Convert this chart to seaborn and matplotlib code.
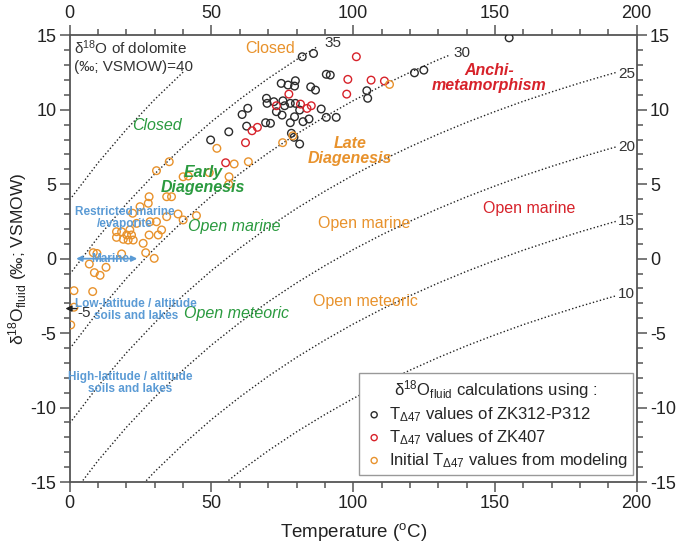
import matplotlib
matplotlib.use("Agg")
import matplotlib.pyplot as plt
from matplotlib.ticker import MultipleLocator
import seaborn as sns
import pandas as pd

# Isolines of dolomite d18O (VSMOW)
iso_40_T = [0, 10, 20, 30, 40]
iso_40_y = [3.95, 6.44, 8.68, 10.70, 12.53]
iso_35_T = [0, 10, 20, 30, 40, 50, 60, 70, 80, 87]
iso_35_y = [-1.05, 1.44, 3.68, 5.70, 7.53, 9.20, 10.71, 12.10, 13.37, 14.20]
iso_30_T = [0, 10, 20, 30, 40, 50, 60, 70, 80, 90, 100, 110, 120, 130, 134]
iso_30_y = [-6.05, -3.56, -1.32, 0.70, 2.53, 4.20, 5.71, 7.10, 8.37, 9.53, 10.61, 11.60, 12.51, 13.36, 13.67]
full_T = [0, 10, 20, 30, 40, 50, 60, 70, 80, 90, 100, 110, 120, 130, 140, 150, 160, 170, 180, 190, 193]
iso_25_y = [-11.05, -8.56, -6.32, -4.30, -2.47, -0.80, 0.71, 2.10, 3.37, 4.53, 5.61, 6.60, 7.51, 8.36,
            9.15, 9.88, 10.57, 11.20, 11.80, 12.36, 12.52]
iso_20_y = [-16.05, -13.56, -11.32, -9.30, -7.47, -5.80, -4.29, -2.90, -1.63, -0.47, 0.61, 1.60, 2.51, 3.36,
            4.15, 4.88, 5.57, 6.20, 6.80, 7.36, 7.52]
iso_15_T = full_T[2:]
iso_15_y = [-16.32, -14.30, -12.47, -10.80, -9.29, -7.90, -6.63, -5.47, -4.39, -3.40, -2.49, -1.64,
            -0.85, -0.12, 0.57, 1.20, 1.80, 2.36, 2.52]
iso_10_T = full_T[5:]
iso_10_y = [-15.80, -14.29, -12.90, -11.63, -10.47, -9.39, -8.40, -7.49, -6.64, -5.85, -5.12, -4.43,
            -3.80, -3.20, -2.64, -2.48]

# samples: T (C) and d18O fluid
zk312_T = [49.7, 56.1, 60.8, 62.8, 62.4, 69.4, 69.6, 72.0, 75.2, 75.8, 77.8, 79.6, 81.1, 88.7, 72.9,
           74.9, 79.3, 84.4, 82.3, 90.5, 94.0, 77.8, 69.1, 70.8, 78.2, 79.1, 81.1, 74.6, 77.0, 79.6,
           79.3, 85.0, 86.7, 82.0, 86.0, 90.5, 91.9, 104.8, 105.1, 121.6, 124.9, 155.0]
zk312_d = [7.97, 8.52, 9.68, 10.1, 8.9, 10.77, 10.43, 10.54, 10.6, 10.27, 10.43, 10.43, 9.98, 10.05, 9.87,
           9.64, 9.53, 9.38, 9.2, 9.49, 9.49, 9.13, 9.13, 9.09, 8.42, 8.15, 7.70, 11.77, 11.66, 11.95,
           11.59, 11.54, 11.32, 13.56, 13.78, 12.38, 12.33, 11.28, 10.77, 12.48, 12.66, 14.83]
zk407_T = [55.0, 62.0, 64.3, 66.2, 72.9, 77.3, 81.4, 83.7, 85.2, 97.7, 98.1, 101.1, 106.3, 111.0]
zk407_d = [6.44, 7.79, 8.59, 8.82, 10.27, 11.05, 10.38, 10.09, 10.27, 11.05, 12.04, 13.56, 11.99, 11.93]
model_T = [0.35, 1.5, 1.5, 8.1, 8.7, 10.7, 6.9, 12.8, 8.3, 9.6, 18.3, 26.8, 29.8, 25.9, 16.5, 18.3, 16.5,
           18.9, 20.1, 21.8, 20.6, 22.4, 21.2, 23.6, 22.2, 24.8, 27.7, 28.0, 28.3, 30.6, 28.0, 31.2, 32.4,
           34.2, 38.2, 40.0, 44.7, 34.2, 35.9, 30.6, 35.1, 40.0, 41.8, 49.2, 51.9, 56.2, 56.1, 58.0, 63.0,
           75.1, 78.7, 112.8]
model_d = [-4.45, -3.26, -2.15, -2.21, -0.94, -1.12, -0.36, -0.58, 0.40, 0.35, 0.32, 0.40, 0.02, 1.03, 1.81,
           1.81, 1.43, 1.30, 1.59, 1.59, 1.25, 1.25, 1.93, 2.37, 3.05, 3.49, 3.72, 4.16, 2.48, 2.48, 1.59,
           1.59, 1.93, 2.82, 3.0, 2.6, 2.89, 4.16, 4.16, 5.91, 6.51, 5.50, 5.55, 5.78, 7.41, 5.5, 5.0, 6.36,
           6.51, 7.79, 8.25, 11.7]

black = '#2b2b2b'
red = '#d7222a'
orange = '#e8922c'
green = '#2a9a3f'
blue = '#5b9bd5'
grey = '#555555'

sns.set_style('ticks')
plt.rcParams['font.family'] = ['Liberation Sans', 'DejaVu Sans']
plt.rcParams['mathtext.fontset'] = 'custom'
plt.rcParams['mathtext.rm'] = 'Liberation Sans'
plt.rcParams['mathtext.it'] = 'Liberation Sans:italic'
plt.rcParams['axes.unicode_minus'] = False

fig = plt.figure(figsize=(6.77, 5.49), dpi=100)
ax = fig.add_axes([0.103, 0.122, 0.8375, 0.8137])

dots = dict(color='#222222', lw=1.0, linestyle=(0, (1, 1.6)), estimator=None, sort=False, legend=False)
for T, y in [(iso_40_T, iso_40_y), (iso_35_T, iso_35_y), (iso_30_T, iso_30_y), (full_T, iso_25_y),
             (full_T, iso_20_y), (iso_15_T, iso_15_y), (iso_10_T, iso_10_y)]:
    sns.lineplot(x=T, y=y, ax=ax, **dots)

groups = [('T$_{\\Delta47}$ values of ZK312-P312', zk312_T, zk312_d, black),
          ('T$_{\\Delta47}$ values of ZK407', zk407_T, zk407_d, red),
          ('Initial T$_{\\Delta47}$ values from modeling', model_T, model_d, orange)]
for name, T, d, c in groups:
    df = pd.DataFrame({'T': T, 'd18O': d})
    sns.scatterplot(data=df, x='T', y='d18O', ax=ax, s=30, facecolor='none', edgecolor=c,
                    linewidth=1.0, label=name, zorder=3)

# isoline labels
ax.text(1.5, 14.2, 'δ$^{18}$O of dolomite', fontsize=11, color='#333333', va='center')
ax.text(1.5, 12.9, '(‰; VSMOW)=40', fontsize=11, color='#333333', va='center')
ax.text(90, 14.5, '35', fontsize=11, color='#333333', va='center')
ax.text(135.5, 13.8, '30', fontsize=11, color='#333333', va='center')
for lab, yy in [('25', 12.4), ('20', 7.5), ('15', 2.5), ('10', -2.4)]:
    ax.text(193.5, yy, lab, fontsize=11, color='#333333', va='center')
ax.annotate('', xy=(-2.5, -3.35), xytext=(3.5, -3.35), annotation_clip=False,
            arrowprops=dict(arrowstyle='-|>', color='#222222', lw=1.0, mutation_scale=9))
ax.text(2.6, -3.66, '-5', fontsize=11, color='#333333', va='center')

# zone labels
ax.text(70.6, 14.1, 'Closed', fontsize=11.5, color=orange, ha='center', va='center')
ax.text(30.6, 8.97, 'Closed', fontsize=11.5, color=green, style='italic', ha='center', va='center')
ax.text(47, 5.3, 'Early\nDiagenesis', fontsize=11.5, color=green, style='italic',
        weight='bold', ha='center', va='center', linespacing=1.0)
ax.text(58.2, 2.15, 'Open marine', fontsize=11.5, color=green, style='italic', ha='center', va='center')
ax.text(58.8, -3.67, 'Open meteoric', fontsize=11.5, color=green, style='italic', ha='center', va='center')
ax.text(99, 7.25, 'Late\nDiagenesis', fontsize=11.5, color=orange, style='italic',
        weight='bold', ha='center', va='center', linespacing=1.0)
ax.text(104, 2.37, 'Open marine', fontsize=11.5, color=orange, ha='center', va='center')
ax.text(104.3, -2.9, 'Open meteoric', fontsize=11.5, color=orange, ha='center', va='center')
ax.text(148, 12.15, 'Anchi-\nmetamorphism', fontsize=11.5, color=red, style='italic',
        weight='bold', ha='center', va='center', linespacing=1.0)
ax.text(162, 3.38, 'Open marine', fontsize=11.5, color=red, ha='center', va='center')

# environment labels
ax.text(19.5, 2.7, 'Restricted marine\n/evaporite', fontsize=8.5, color=blue, weight='bold',
        ha='center', va='center', linespacing=1.0)
ax.annotate('', xy=(1.3, 0), xytext=(24.8, 0),
            arrowprops=dict(arrowstyle='<|-|>', color=blue, lw=1.3, mutation_scale=8))
ax.text(14.3, 0, 'Marine', fontsize=8.5, color=blue, weight='bold', ha='center', va='center')
ax.text(23.3, -3.42, 'Low-latitude / altitude\nsoils and lakes', fontsize=8.5, color=blue, weight='bold',
        ha='center', va='center', linespacing=1.0)
ax.text(21.4, -8.37, 'High-latitude / altitude\nsoils and lakes', fontsize=8.5, color=blue, weight='bold',
        ha='center', va='center', linespacing=1.0)

ax.set_xlim(0, 200)
ax.set_ylim(-15, 15)
ax.xaxis.set_major_locator(MultipleLocator(50))
ax.xaxis.set_minor_locator(MultipleLocator(10))
ax.yaxis.set_major_locator(MultipleLocator(5))
ax.yaxis.set_minor_locator(MultipleLocator(1))
ax.tick_params(which='both', direction='out', top=True, right=True, labeltop=True, labelright=True,
               color=grey, labelsize=13, labelcolor='#222222', width=1.1, pad=2.5)
ax.tick_params(which='major', length=7)
ax.tick_params(which='minor', length=4)
for sp in ax.spines.values():
    sp.set_visible(True)
    sp.set_color(grey)
    sp.set_linewidth(1.3)

ax.set_xlabel('Temperature ($^{\\mathregular{o}}$C)', fontsize=13.5, color='#222222', labelpad=6)
ax.set_ylabel('δ$^{18}$O$_{\\mathregular{fluid}}$ (‰; VSMOW)', fontsize=12.5, color='#222222', labelpad=1)

leg = ax.legend(loc='lower right', bbox_to_anchor=(0.993, 0.016), fontsize=12,
                title='δ$^{18}$O$_{\\mathregular{fluid}}$ calculations using :', title_fontsize=12,
                frameon=True, fancybox=False, edgecolor='#999999', framealpha=1, markerscale=0.8,
                handletextpad=0.3, borderpad=0.3, labelspacing=0.25, handlelength=1.2, borderaxespad=0)
leg.get_frame().set_linewidth(1.0)

fig.savefig('out.png', dpi=100)
